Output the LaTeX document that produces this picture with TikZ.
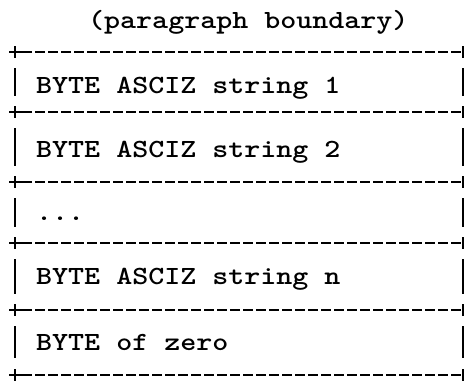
\documentclass[tikz,border=0pt]{standalone}
\usepackage{graphicx}
\newcommand\twtext[1]{\scalebox{1.164}[1]{#1}}
\begin{document}
\begin{tikzpicture}[x=1pt,y=-1pt,
  rule/.style={line width=1.3pt, dash pattern=on 10pt off 3pt},
  solidline/.style={line width=1.5pt},
  txt/.style={anchor=base west, inner sep=0pt, font=\fontsize{26.2}{30}\selectfont\ttfamily\bfseries}]
\useasboundingbox (0,0) rectangle (465,380);
% horizontal rules with + corners
\foreach \y in {52,112,182,243,310,375} {
  \draw[rule] (9,\y) -- (463,\y);
  \draw[solidline] (9,\y) -- (22,\y);
  \draw[solidline] (15,{\y-6}) -- (15,{\y+6});
  \draw[solidline] (463,{\y-6}) -- (463,{\y+6});
}
% vertical bars
\foreach \a/\b in {68/96,128/166,198/227,259/294,326/358} {
  \draw[solidline] (15,\a) -- (15,\b);
  \draw[solidline] (463,\a) -- (463,\b);
}
% texts
\node[txt] (title) at (88,28) {\twtext{(paragraph boundary)}};
\node[txt] (s1) at (36,93) {\twtext{BYTE ASCIZ string 1}};
\node[txt] (s2) at (36,157) {\twtext{BYTE ASCIZ string 2}};
\node[txt] (dots) at (36,220) {\twtext{...}};
\node[txt] (sn) at (36,284) {\twtext{BYTE ASCIZ string n}};
\node[txt] (zero) at (36,350) {\twtext{BYTE of zero}};
\end{tikzpicture}
\end{document}
